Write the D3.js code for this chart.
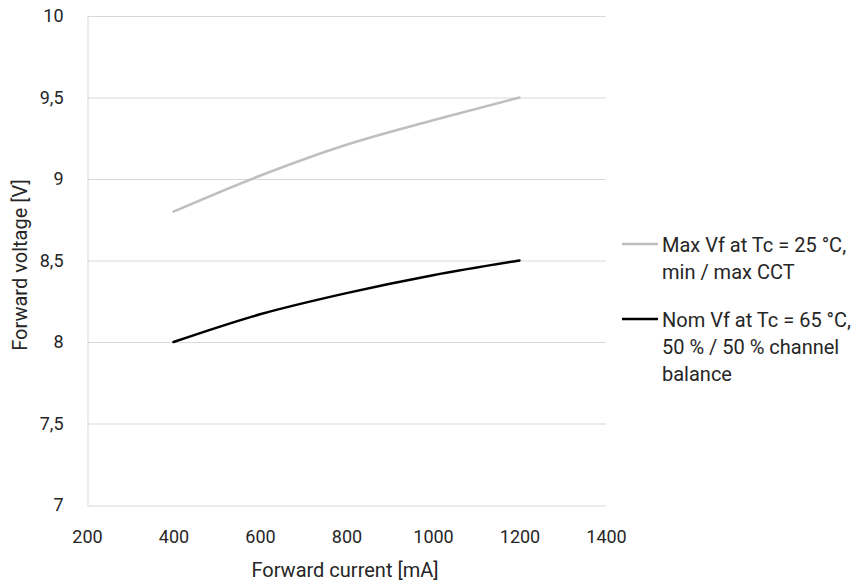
<!DOCTYPE html>
<html>
<head>
<meta charset="utf-8">
<script src="https://cdn.jsdelivr.net/npm/d3@7"></script>
<style>
  body { margin: 0; background: #fff; }
  text { font-family: Roboto, "Noto Sans", sans-serif; fill: #262626; }
</style>
</head>
<body>
<svg id="chart" width="864" height="585"></svg>
<script>
// data
var currents = [400, 600, 800, 1000, 1200];
var maxVf = [8.8, 9.02, 9.21, 9.36, 9.5];
var nomVf = [8.0, 8.17, 8.3, 8.41, 8.5];
var xTicks = [200, 400, 600, 800, 1000, 1200, 1400];
var yTicks = [7, 7.5, 8, 8.5, 9, 9.5, 10];
var seriesNames = [
    ["Max Vf at Tc = 25 °C,", "min / max CCT"],
    ["Nom Vf at Tc = 65 °C,", "50 % / 50 % channel", "balance"]
];
var seriesColours = ["#bfbfbf", "#000000"];

var svg = d3.select("#chart");

var x = d3.scaleLinear().domain([200, 1400]).range([87, 606]);
var y = d3.scaleLinear().domain([7, 10]).range([505, 16]);

// gridlines
svg.append("g")
    .selectAll("line")
    .data(yTicks.filter(function (d) { return d > 7 }))
    .enter()
    .append("line")
    .attr("x1", x(200))
    .attr("x2", x(1400))
    .attr("y1", function (d) { return y(d) + 0.5 })
    .attr("y2", function (d) { return y(d) + 0.5 })
    .attr("stroke", "#d9d9d9")
    .attr("stroke-width", 1);

// axes
var xAxis = svg.append("g")
    .attr("transform", "translate(0," + (y(7) + 0.5) + ")")
    .call(d3.axisBottom(x).tickValues(xTicks).tickSize(0).tickPadding(25)
        .tickFormat(function (d) { return String(d) }));
xAxis.select(".domain").attr("stroke", "#d9d9d9");
xAxis.selectAll("text").style("font-size", "18px").attr("fill", "#262626");

var yAxis = svg.append("g")
    .attr("transform", "translate(" + (x(200) + 0.5) + ",0)")
    .call(d3.axisLeft(y).tickValues(yTicks).tickSize(0).tickPadding(24)
        .tickFormat(function (d) { return String(d).replace(".", ",") }));
yAxis.select(".domain").attr("stroke", "#d9d9d9");
yAxis.selectAll("text").style("font-size", "18px").attr("fill", "#262626");

// axis titles
svg.append("text")
    .attr("x", 345)
    .attr("y", 577)
    .attr("text-anchor", "middle")
    .style("font-size", "20px")
    .text("Forward current [mA]");

svg.append("text")
    .attr("transform", "translate(27,265) rotate(-90)")
    .attr("text-anchor", "middle")
    .style("font-size", "20px")
    .text("Forward voltage [V]");

// lines
var line = d3.line()
    .x(function (d) { return x(d[0]) })
    .y(function (d) { return y(d[1]) })
    .curve(d3.curveMonotoneX);

[maxVf, nomVf].forEach(function (vals, i) {
    svg.append("path")
        .datum(currents.map(function (c, j) { return [c, vals[j]] }))
        .attr("d", line)
        .attr("fill", "none")
        .attr("stroke", seriesColours[i])
        .attr("stroke-width", 2.5)
        .attr("stroke-linecap", "round");
});

// legend
var legendY = [244, 319];
seriesNames.forEach(function (lines, i) {
    var g = svg.append("g").attr("transform", "translate(0," + legendY[i] + ")");
    g.append("line")
        .attr("x1", 622).attr("x2", 658)
        .attr("y1", 0).attr("y2", 0)
        .attr("stroke", seriesColours[i])
        .attr("stroke-width", 2.5);
    g.selectAll("text")
        .data(lines)
        .enter()
        .append("text")
        .attr("x", 662)
        .attr("y", function (d, k) { return 8 + k * 27 })
        .style("font-size", "20px")
        .text(function (d) { return d });
});
</script>
</body>
</html>
